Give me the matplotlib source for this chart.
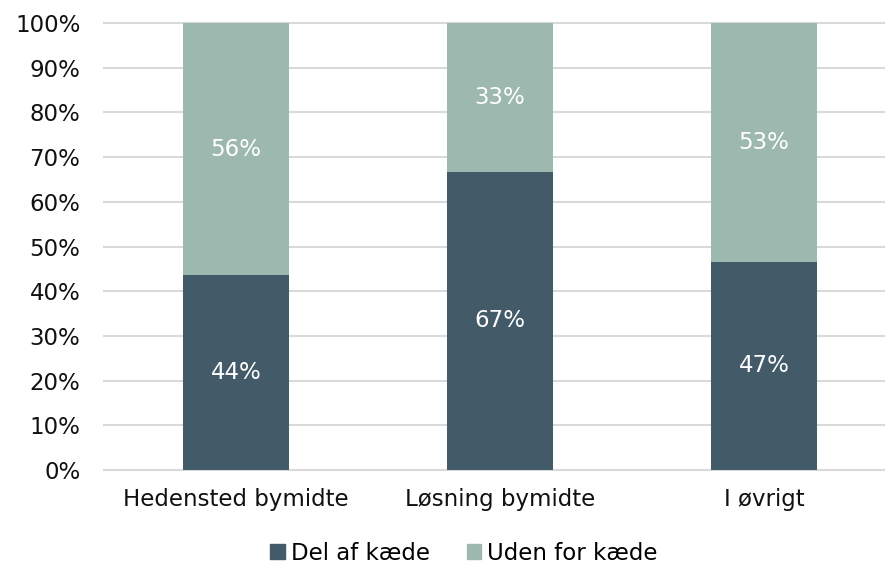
import matplotlib
matplotlib.use("Agg")
import matplotlib.pyplot as plt
from matplotlib.patches import Patch
import numpy as np

categories = ["Hedensted bymidte", "Løsning bymidte", "I øvrigt"]
del_af_kaede = [43.6, 66.7, 46.6]
uden_for_kaede = [56.4, 33.3, 53.4]
series_names = ["Del af kæde", "Uden for kæde"]
yticks = [0, 10, 20, 30, 40, 50, 60, 70, 80, 90, 100]

c_dark = "#435A69"
c_light = "#9DB8AE"
fs = 16.5

plt.rcParams['font.family'] = ['DejaVu Sans']
fig = plt.figure(figsize=(8.85, 5.66), dpi=100)
ax = fig.add_axes([104/885, 1-470/566, 1-104/885, (470-23)/566])

x = np.arange(len(categories))
w = 0.40
ax.bar(x, del_af_kaede, w, color=c_dark, zorder=3)
ax.bar(x, uden_for_kaede, w, bottom=del_af_kaede, color=c_light, zorder=3)

for i in range(len(categories)):
    ax.text(x[i], del_af_kaede[i]/2, f"{round(del_af_kaede[i]):.0f}%", ha="center", va="center",
            color="white", fontsize=fs, zorder=4)
    ax.text(x[i], del_af_kaede[i] + uden_for_kaede[i]/2, f"{round(uden_for_kaede[i]):.0f}%",
            ha="center", va="center", color="white", fontsize=fs, zorder=4)

ax.set_xlim(-0.5, 2.5 - 11/264)
ax.set_ylim(0, 100)
ax.set_yticks(yticks)
ax.set_yticklabels([f"{t}%" for t in yticks], fontsize=fs, color="#111111")
ax.set_xticks(x)
ax.set_xticklabels(categories, fontsize=fs, color="#111111")
ax.tick_params(axis="both", length=0)
ax.tick_params(axis="y", pad=17)
ax.tick_params(axis="x", pad=13)
ax.grid(axis="y", color="#D9D9D9", linewidth=1.5, zorder=0)
for gl in ax.get_ygridlines():
    gl.set_clip_on(False)
for s in ax.spines.values():
    s.set_visible(False)

handles = [Patch(color=c_dark), Patch(color=c_light)]
fig.legend(handles, series_names, loc="center", bbox_to_anchor=(464/885, 1-553/566), ncol=2,
           frameon=False, fontsize=fs, handlelength=0.65, handleheight=0.65,
           handletextpad=0.25, columnspacing=1.6)

fig.savefig("out.png", dpi=100)
